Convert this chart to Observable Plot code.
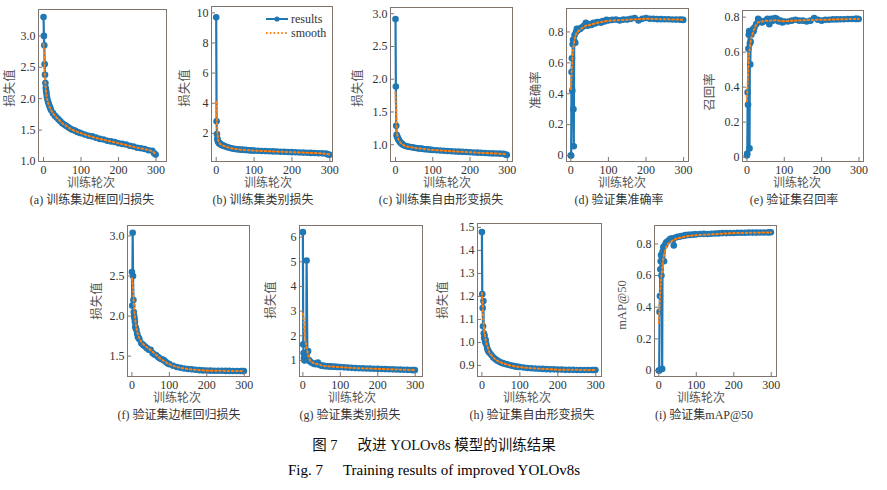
<!DOCTYPE html>
<html><head><meta charset="utf-8">
<script src="https://cdn.jsdelivr.net/npm/d3@7"></script>
<script src="https://cdn.jsdelivr.net/npm/@observablehq/plot@0.6"></script>
<style>
body{margin:0;background:#fff;}
#root{position:relative;width:887px;height:490px;overflow:hidden;background:#fff;font-family:"Liberation Serif","Noto Sans CJK SC",serif;}
.t{position:absolute;white-space:nowrap;transform:translate(-50%,-50%);line-height:1;}
.yl{position:absolute;white-space:nowrap;transform:translate(-50%,-50%) rotate(-90deg);line-height:1;font-size:12.5px;color:#555;}
.xl{font-size:12px;color:#555;}
.cap{font-size:12px;color:#333;}
.leg{position:absolute;font-size:12px;color:#333;}
</style></head><body><div id="root"></div>
<script>
// ---------- data ----------
const epochs = [0,1,2,3,4,5,6,7,8,9,10,12,14,16,18,20,25,30,35,40,45,50,55,60,65,70,75,80,85,90,95,100,110,120,130,140,150,160,170,180,190,200,210,220,230,240,250,260,270,280,290,295,299];
const smoothEpochs = [0,1,2,3,4,5,6,8,10,13,16,20,25,30,40,50,60,75,100,125,150,175,200,225,250,275,290,299];
const xTicks = [0,100,200,300];

const trainBoxLoss = [3.30,3.00,2.85,2.55,2.38,2.25,2.17,2.12,2.08,2.03,2.00, 1.95,1.92,1.88,1.85, 1.82,1.77,1.73,1.70,1.67,1.64,1.61,1.59,1.57,1.55,1.53,1.51,1.50,1.49,1.47,1.46,1.45, 1.43,1.41,1.40,1.38,1.36,1.35,1.33,1.32,1.31,1.29,1.28,1.27,1.25,1.24,1.22,1.21,1.20,1.18,1.17, 1.13,1.11];
const trainClsLoss = [9.70,2.80,1.95,1.65,1.52,1.45,1.40,1.37,1.34,1.32,1.30, 1.27,1.24,1.21,1.19, 1.17,1.12,1.08,1.04,1.01,0.98,0.96,0.945,0.93,0.92,0.91,0.90,0.89,0.88,0.87,0.86,0.85, 0.84,0.83,0.82,0.81,0.80,0.79,0.78,0.77,0.76,0.75,0.74,0.73,0.72,0.71,0.70,0.69,0.68,0.67,0.65, 0.60,0.57];
const trainDflLoss = [2.92,1.89,1.29,1.15,1.13,1.12,1.10,1.09,1.08,1.07,1.06, 1.04,1.03,1.02,1.01, 1.00,0.985,0.975,0.97,0.965,0.96,0.955,0.95,0.945,0.943,0.94,0.935,0.932,0.93,0.927,0.924,0.92, 0.916,0.912,0.908,0.904,0.90,0.897,0.894,0.891,0.888,0.885,0.882,0.879,0.876,0.873,0.871,0.868,0.866,0.864,0.862, 0.852,0.845];
const valPrecision = [0.00,0.00,0.54,0.63,0.42,0.72,0.75,0.30,0.06,0.74,0.78, 0.73,0.80,0.82,0.81, 0.82,0.82,0.83,0.84,0.86,0.84,0.85,0.845,0.86,0.855,0.865,0.865,0.86,0.87,0.868,0.878,0.875, 0.878,0.88,0.875,0.88,0.88,0.885,0.89,0.875,0.885,0.89,0.885,0.885,0.883,0.883,0.882,0.882,0.881,0.88,0.88, 0.879,0.878];
const valRecall = [0.01,0.02,0.37,0.30,0.62,0.70,0.72,0.05,0.65,0.53,0.66, 0.70,0.72,0.73,0.72, 0.74,0.76,0.79,0.78,0.77,0.775,0.78,0.79,0.76,0.79,0.78,0.795,0.79,0.775,0.78,0.77,0.775, 0.775,0.78,0.785,0.78,0.78,0.775,0.78,0.795,0.785,0.78,0.785,0.785,0.787,0.787,0.788,0.788,0.789,0.789,0.79, 0.79,0.789];
const valBoxLoss = [2.55,2.13,3.04,2.50,2.20,2.05,2.00,1.97,1.93,1.87,1.85, 1.83,1.78,1.74,1.73, 1.71,1.66,1.64,1.62,1.60,1.58,1.58,1.54,1.52,1.51,1.49,1.47,1.46,1.45,1.43,1.41,1.40, 1.38,1.365,1.355,1.345,1.34,1.335,1.33,1.325,1.322,1.32,1.319,1.318,1.317,1.317,1.316,1.316,1.315,1.315,1.315, 1.315,1.315];
const valClsLoss = [6.20,1.65,1.30,1.10,1.02,1.00,1.25,1.20,1.05,1.22,5.05, 1.35,1.38,1.02,0.98, 0.95,0.90,0.86,0.85,0.92,0.82,0.79,0.78,0.77,0.765,0.76,0.755,0.75,0.745,0.74,0.735,0.73, 0.72,0.71,0.70,0.69,0.685,0.68,0.675,0.67,0.665,0.66,0.655,0.65,0.645,0.64,0.635,0.63,0.625,0.62,0.615, 0.61,0.61];
const valDflLoss = [1.48,1.21,1.15,1.07,1.18,1.04,1.02,1.03,1.01,1.00,1.01, 0.99,0.975,0.965,0.96, 0.955,0.945,0.935,0.928,0.922,0.917,0.913,0.91,0.907,0.905,0.903,0.901,0.899,0.897,0.895,0.894,0.893, 0.891,0.889,0.888,0.887,0.886,0.885,0.884,0.883,0.883,0.882,0.882,0.881,0.881,0.881,0.88,0.88,0.88,0.88,0.88, 0.88,0.88];
const valMAP50 = [0.00,0.00,0.37,0.47,0.64,0.69,0.73,0.60,0.72,0.01,0.75, 0.78,0.69,0.79,0.80, 0.81,0.82,0.83,0.835,0.79,0.84,0.845,0.845,0.85,0.85,0.855,0.855,0.857,0.857,0.858,0.86,0.86, 0.862,0.863,0.862,0.864,0.865,0.866,0.868,0.868,0.869,0.869,0.87,0.87,0.87,0.871,0.871,0.871,0.872,0.872,0.872, 0.873,0.873];

const trainBoxSmooth = [2.87,2.75,2.6,2.45,2.33,2.23,2.15,2.05,1.98,1.92,1.87,1.82,1.77,1.73,1.67,1.61,1.57,1.51,1.45,1.40,1.36,1.325,1.29,1.255,1.22,1.19,1.16,1.12];
const trainClsSmooth = [4.1,3.5,2.8,2.25,1.85,1.62,1.5,1.38,1.31,1.26,1.21,1.17,1.12,1.08,1.01,0.96,0.93,0.90,0.85,0.825,0.80,0.775,0.75,0.725,0.70,0.675,0.64,0.59];
const trainDflSmooth = [1.8,1.6,1.42,1.27,1.18,1.14,1.11,1.08,1.06,1.035,1.02,1.0,0.985,0.975,0.965,0.955,0.945,0.935,0.92,0.91,0.90,0.893,0.885,0.878,0.871,0.865,0.858,0.85];
const valPrecisionSmooth = [0.43,0.47,0.52,0.57,0.61,0.65,0.68,0.72,0.75,0.78,0.795,0.805,0.815,0.825,0.84,0.845,0.852,0.862,0.872,0.876,0.879,0.882,0.885,0.884,0.882,0.881,0.88,0.879];
const valRecallSmooth = [0.32,0.37,0.42,0.47,0.52,0.56,0.59,0.63,0.66,0.69,0.71,0.735,0.755,0.77,0.775,0.78,0.78,0.782,0.777,0.78,0.782,0.784,0.785,0.786,0.788,0.789,0.79,0.789];
const valBoxSmooth = [2.47,2.45,2.4,2.33,2.25,2.17,2.1,1.99,1.91,1.83,1.77,1.72,1.68,1.65,1.61,1.575,1.535,1.475,1.40,1.36,1.34,1.328,1.32,1.318,1.316,1.315,1.315,1.315];
const valClsSmooth = [2.9,2.8,2.65,2.45,2.25,2.05,1.9,1.7,1.55,1.3,1.12,0.98,0.92,0.88,0.85,0.80,0.77,0.755,0.73,0.705,0.685,0.672,0.66,0.648,0.635,0.622,0.615,0.61];
const valDflSmooth = [1.215,1.2,1.17,1.13,1.1,1.07,1.05,1.03,1.01,0.99,0.975,0.955,0.945,0.935,0.922,0.913,0.907,0.9,0.893,0.889,0.886,0.884,0.882,0.881,0.881,0.88,0.88,0.88];
const valMAP50Smooth = [0.30,0.35,0.40,0.45,0.50,0.54,0.57,0.62,0.67,0.72,0.75,0.78,0.80,0.81,0.825,0.835,0.84,0.848,0.855,0.858,0.862,0.865,0.868,0.869,0.87,0.871,0.871,0.872];

const ticksA = [1.0,1.5,2.0,2.5,3.0];
const ticksB = [2,4,6,8,10];
const ticksC = [1.0,1.5,2.0,2.5,3.0];
const ticksRate = [0,0.2,0.4,0.6,0.8];
const ticksF = [1.5,2.0,2.5,3.0];
const ticksG = [1,2,3,4,5,6];
const ticksH = [0.9,1.0,1.1,1.2,1.3,1.4,1.5];

const xLabel = "训练轮次";
const legendLabels = ["results","smooth"];
const titleCN = ["图 7", "改进 YOLOv8s 模型的训练结果"];
const titleEN = ["Fig. 7", "Training results of improved YOLOv8s"];

// ---------- layout ----------
const BLUE = "#1f77b4", ORANGE = "#ff7f0e", FRAME = "#7f756f";
const f1 = d3.format(".1f");
const fInt = d => String(d);
const fRate = d => d === 0 ? "0" : d.toFixed(1);

const panels = [
  {vals: trainBoxLoss, sm: trainBoxSmooth, frame:[38,166,9,161], xd:[-13.4,328], yd:[1.0,3.42], yt:ticksA, fmt:f1, ylab:"损失值", yl:[10,88], xl:[91,183], cap:"(a) 训练集边框回归损失", cp:[92,200]},
  {vals: trainClsLoss, sm: trainClsSmooth, frame:[211,332,6,161], xd:[-12.4,307], yd:[0.13,10.42], yt:ticksB, fmt:fInt, ylab:"损失值", yl:[185,88], xl:[268,183], cap:"(b) 训练集类别损失", cp:[263,200], legend:true},
  {vals: trainDflLoss, sm: trainDflSmooth, frame:[390,512,7,161], xd:[-13.4,314], yd:[0.744,3.095], yt:ticksC, fmt:f1, ylab:"损失值", yl:[358,88], xl:[447,183], cap:"(c) 训练集自由形变损失", cp:[441,200]},
  {vals: valPrecision, sm: valPrecisionSmooth, frame:[566,688,8,161], xd:[-11.4,313], yd:[-0.039,0.952], yt:ticksRate, fmt:fRate, ylab:"准确率", yl:[536,90], xl:[622,183], cap:"(d) 验证集准确率", cp:[619,200]},
  {vals: valRecall, sm: valRecallSmooth, frame:[742,863,10,161], xd:[-11.8,312], yd:[-0.025,0.838], yt:ticksRate, fmt:fRate, ylab:"召回率", yl:[710,92], xl:[797,183], cap:"(e) 验证集召回率", cp:[794,200]},
  {vals: valBoxLoss, sm: valBoxSmooth, frame:[127,249,225,376], xd:[-11.8,314], yd:[1.246,3.13], yt:ticksF, fmt:f1, ylab:"损失值", yl:[97,301], xl:[177,398], cap:"(f) 验证集边框回归损失", cp:[179,415]},
  {vals: valClsLoss, sm: valClsSmooth, frame:[299,422,225,376], xd:[-9,319.5], yd:[0.35,6.47], yt:ticksG, fmt:fInt, ylab:"损失值", yl:[271,300], xl:[352,398], cap:"(g) 验证集类别损失", cp:[350,415]},
  {vals: valDflLoss, sm: valDflSmooth, frame:[477,601,223,376], xd:[-11.6,315], yd:[0.852,1.517], yt:ticksH, fmt:f1, ylab:"损失值", yl:[443,300], xl:[527,398], cap:"(h) 验证集自由形变损失", cp:[532,415]},
  {vals: valMAP50, sm: valMAP50Smooth, frame:[654,776,225,376], xd:[-11.5,314], yd:[-0.038,0.916], yt:ticksRate, fmt:fRate, ylab:"mAP@50", yl:[622,305], xl:[701,398], cap:"(i) 验证集mAP@50", cp:[704,415]}
];

const root = document.getElementById("root");
function addText(cls, txt, x, y, extra) {
  const d = document.createElement("div");
  d.className = cls; d.textContent = txt;
  d.style.left = x + "px"; d.style.top = y + "px";
  if (extra) Object.assign(d.style, extra);
  root.appendChild(d);
  return d;
}

for (const p of panels) {
  const [x0, x1, y0, y1] = p.frame;
  const mL = 40, mR = 6, mT = 4, mB = 22;
  const fw = x1 - x0, fh = y1 - y0;
  const data = epochs.map((e, i) => ({epoch: e, value: p.vals[i]}));
  const sm = smoothEpochs.map((e, i) => ({epoch: e, value: p.sm[i]}));
  const chart = Plot.plot({
    width: fw + mL + mR, height: fh + mT + mB,
    marginLeft: mL, marginRight: mR, marginTop: mT, marginBottom: mB,
    style: {fontFamily: "Liberation Serif", fontSize: "12px", color: "#333", background: "transparent", overflow: "visible"},
    x: {domain: p.xd, ticks: xTicks, tickSize: 0, tickPadding: 4, label: null},
    y: {domain: p.yd, ticks: p.yt, tickSize: 0, tickPadding: 3, label: null, tickFormat: p.fmt},
    marks: [
      Plot.line(data, {x: "epoch", y: "value", stroke: BLUE, strokeWidth: 2.2}),
      Plot.dot(data, {x: "epoch", y: "value", r: 3.3, fill: BLUE, stroke: "none"}),
      Plot.line(sm, {x: "epoch", y: "value", stroke: ORANGE, strokeWidth: 2, strokeDasharray: "1.6,2.6", curve: "monotone-x"}),
      Plot.tickX(xTicks, {x: d => d, stroke: FRAME, insetTop: fh - 4}),
      Plot.tickY(p.yt, {y: d => d, stroke: FRAME, insetRight: fw - 4}),
      Plot.frame({stroke: FRAME})
    ]
  });
  chart.style.position = "absolute";
  chart.style.left = (x0 - mL) + "px";
  chart.style.top = (y0 - mT) + "px";
  root.appendChild(chart);

  addText("yl", p.ylab, p.yl[0], p.yl[1]);
  addText("t xl", xLabel, p.xl[0], p.xl[1]);
  addText("t cap", p.cap, p.cp[0], p.cp[1]);

  if (p.legend) {
    const lg = document.createElement("div");
    lg.className = "leg";
    lg.style.left = "265px"; lg.style.top = "12px";
    lg.innerHTML =
      `<div style="display:flex;align-items:center;height:14px"><svg width="24" height="10"><line x1="1" y1="5" x2="23" y2="5" stroke="${BLUE}" stroke-width="2"/><circle cx="12" cy="5" r="2.6" fill="${BLUE}"/></svg><span style="margin-left:2px">${legendLabels[0]}</span></div>` +
      `<div style="display:flex;align-items:center;height:14px"><svg width="24" height="10"><line x1="1" y1="5" x2="23" y2="5" stroke="${ORANGE}" stroke-width="2" stroke-dasharray="1.6,2.2"/></svg><span style="margin-left:2px">${legendLabels[1]}</span></div>`;
    root.appendChild(lg);
  }
}

// titles
const t1 = document.createElement("div");
t1.className = "t"; t1.style.left = "434px"; t1.style.top = "445px";
t1.style.fontSize = "14.5px"; t1.style.color = "#111";
t1.innerHTML = `<span>${titleCN[0]}</span><span style="display:inline-block;width:20px"></span><span>${titleCN[1]}</span>`;
root.appendChild(t1);
const t2 = document.createElement("div");
t2.className = "t"; t2.style.left = "434px"; t2.style.top = "470px";
t2.style.fontSize = "15px"; t2.style.color = "#000";
t2.innerHTML = `<span>${titleEN[0]}</span><span style="display:inline-block;width:20px"></span><span>${titleEN[1]}</span>`;
root.appendChild(t2);
</script></body></html>
